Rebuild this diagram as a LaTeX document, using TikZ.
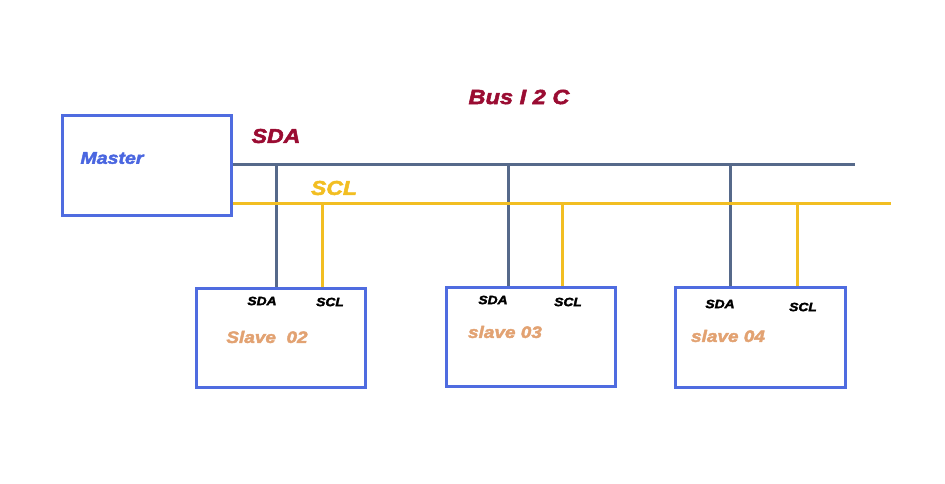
\documentclass[tikz,border=0pt]{standalone}
\usepackage{fontspec}
\setmainfont{Liberation Sans}[BoldItalicFeatures={FakeBold=2.5,FakeStretch=1.15}]
\definecolor{boxblue}{HTML}{4F6CE0}
\definecolor{sdacol}{HTML}{56698A}
\definecolor{sclcol}{HTML}{F2BE22}
\definecolor{busred}{HTML}{9A0C32}
\definecolor{slavetxt}{HTML}{E2A272}
\definecolor{mastertxt}{HTML}{4A66E0}
\tikzset{
  devbox/.style={draw=boxblue, line width=3pt, inner sep=0pt},
  sdawire/.style={draw=sdacol, line width=3pt},
  sclwire/.style={draw=sclcol, line width=3pt},
  lbl/.style={font=\bfseries\itshape, inner sep=0pt, anchor=center},
  pin/.style={lbl, font=\fontsize{12}{13}\selectfont\bfseries\itshape, text=black},
  slavename/.style={lbl, font=\fontsize{16.5}{18}\selectfont\bfseries\itshape, text=slavetxt},
}
\begin{document}
\begin{tikzpicture}[x=1pt,y=-1pt]
\useasboundingbox (0,0) rectangle (945,483);
% boxes
\node[devbox, minimum width=169pt, minimum height=100pt] (master) at (146.5,165) {};
\node[devbox, minimum width=169pt, minimum height=99pt] (s2) at (280.5,337.5) {};
\node[devbox, minimum width=169pt, minimum height=99pt] (s3) at (530.5,336.5) {};
\node[devbox, minimum width=170pt, minimum height=100pt] (s4) at (760,337) {};
% bus coordinates
\coordinate (sdaend) at (855,164);
\coordinate (sclend) at (891,203);
\coordinate (sdastart) at (master.east |- 0,164);
\coordinate (sclstart) at (master.east |- 0,203);
\coordinate (t2a) at (276,164);
\coordinate (t3a) at (508,164);
\coordinate (t4a) at (730,164);
\coordinate (t2c) at (322,203);
\coordinate (t3c) at (562,203);
\coordinate (t4c) at (797,203);
% vertical drops
\draw[sdawire] (t2a) -- (t2a |- s2.north);
\draw[sdawire] (t3a) -- (t3a |- s3.north);
\draw[sdawire] (t4a) -- (t4a |- s4.north);
\draw[sclwire] (t2c) -- (t2c |- s2.north);
\draw[sclwire] (t3c) -- (t3c |- s3.north);
\draw[sclwire] (t4c) -- (t4c |- s4.north);
% bus lines
\draw[sdawire] (sdastart) -- (sdaend);
\draw[sclwire] (sclstart) -- (sclend);
% labels
\node[lbl, font=\fontsize{20.5}{22}\selectfont\bfseries\itshape, text=busred] (bus) at (519,97) {Bus I 2 C};
\node[lbl, font=\fontsize{20}{22}\selectfont\bfseries\itshape, text=busred] (sdalbl) at (276,136) {SDA};
\node[lbl, font=\fontsize{20}{22}\selectfont\bfseries\itshape, text=sclcol] (scllbl) at (334,188) {SCL};
\node[lbl, font=\fontsize{17}{19}\selectfont\bfseries\itshape, text=mastertxt] (mlbl) at (112,158) {Master};
\node[pin] (p2a) at (262,301) {SDA};
\node[pin] (p2c) at (330,302) {SCL};
\node[pin] (p3a) at (493,300) {SDA};
\node[pin] (p3c) at (568,302) {SCL};
\node[pin] (p4a) at (720,304) {SDA};
\node[pin] (p4c) at (803,307) {SCL};
\node[slavename] (n2) at (267,337) {Slave\ \ 02};
\node[slavename] (n3) at (505,332) {slave 03};
\node[slavename] (n4) at (728,336) {slave 04};
\end{tikzpicture}
\end{document}
